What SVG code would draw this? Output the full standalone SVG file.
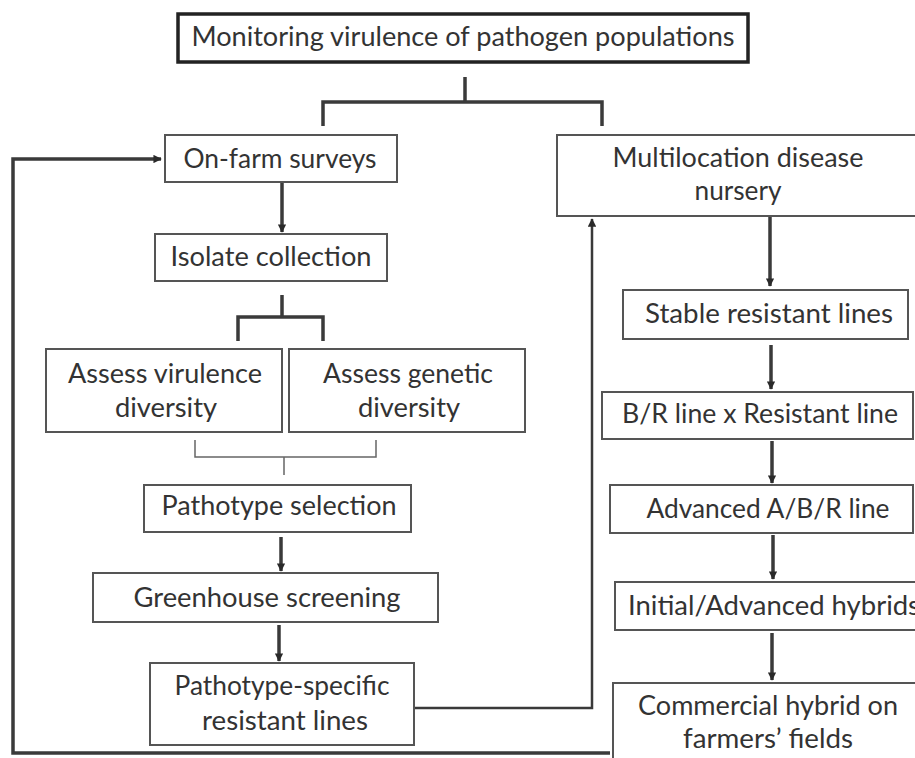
<svg xmlns="http://www.w3.org/2000/svg" width="915" height="758" viewBox="0 0 915 758">
<defs>
<style>
.box{fill:#fff;stroke:#555;stroke-width:2}
.top{fill:#fff;stroke:#222;stroke-width:3.5}
.t{font-family:Lato,"Open Sans","Liberation Sans",sans-serif;font-size:26px;fill:#333;text-anchor:middle}
.ts{font-family:Lato,"Open Sans","Liberation Sans",sans-serif;font-size:26px;fill:#333}
.c{fill:none;stroke:#3a3a3a;stroke-width:3.5}
.cn{fill:none;stroke:#3a3a3a;stroke-width:2.5}
.thin{fill:none;stroke:#666;stroke-width:1.5}
</style>
<marker id="ah" viewBox="0 0 10 10" refX="9" refY="5" markerWidth="2.4" markerHeight="2.4" orient="auto" markerUnits="strokeWidth">
<path d="M0,0 L10,5 L0,10 z" fill="#2a2a2a"/>
</marker>
<marker id="ah2" viewBox="0 0 10 10" refX="9" refY="5" markerWidth="3.4" markerHeight="3.4" orient="auto" markerUnits="strokeWidth">
<path d="M0,0 L10,5 L0,10 z" fill="#2a2a2a"/>
</marker>
</defs>

<g id="connectors">
<path class="c" d="M465,77 V102 M323,126 V102 H602 V126"/>
<path class="c" d="M282,183 V232" marker-end="url(#ah)"/>
<path class="c" d="M282,295 V317 M238,341 V317 H323 V341"/>
<path class="thin" d="M195,440 V457 H376 V440 M284,457 V475"/>
<path class="c" d="M281,537 V571" marker-end="url(#ah)"/>
<path class="c" d="M279,625 V661" marker-end="url(#ah)"/>
<path class="cn" d="M414,708 H592 V219" marker-end="url(#ah2)"/>
<path class="c" d="M610,753 H13 V159 H161" marker-end="url(#ah)"/>
<path class="c" d="M770,216 V286" marker-end="url(#ah)"/>
<path class="c" d="M771,345 V389" marker-end="url(#ah)"/>
<path class="c" d="M772,441 V483" marker-end="url(#ah)"/>
<path class="c" d="M773,535 V579" marker-end="url(#ah)"/>
<path class="c" d="M772,633 V680" marker-end="url(#ah)"/>
</g>

<g id="n-monitor">
<rect class="top" x="178" y="14" width="570" height="48"/>
<text class="t" x="463" y="46" textLength="543" lengthAdjust="spacingAndGlyphs">Monitoring virulence of pathogen populations</text>
</g>
<g id="n-onfarm">
<rect class="box" x="165" y="135" width="232" height="47"/>
<text class="t" x="280" y="168" textLength="193" lengthAdjust="spacingAndGlyphs">On-farm surveys</text>
</g>
<g id="n-multiloc">
<rect class="box" x="557" y="135" width="370" height="81"/>
<text class="t" x="738" y="167" textLength="251" lengthAdjust="spacingAndGlyphs">Multilocation disease</text>
<text class="t" x="738" y="200" textLength="87" lengthAdjust="spacingAndGlyphs">nursery</text>
</g>
<g id="n-isolate">
<rect class="box" x="155" y="234" width="232" height="47"/>
<text class="t" x="271" y="266" textLength="201" lengthAdjust="spacingAndGlyphs">Isolate collection</text>
</g>
<g id="n-virulence">
<rect class="box" x="46" y="349" width="236" height="83"/>
<text class="t" x="165" y="383" textLength="194" lengthAdjust="spacingAndGlyphs">Assess virulence</text>
<text class="t" x="166" y="417" textLength="102" lengthAdjust="spacingAndGlyphs">diversity</text>
</g>
<g id="n-genetic">
<rect class="box" x="289" y="349" width="236" height="83"/>
<text class="t" x="408" y="383" textLength="170" lengthAdjust="spacingAndGlyphs">Assess genetic</text>
<text class="t" x="409" y="417" textLength="102" lengthAdjust="spacingAndGlyphs">diversity</text>
</g>
<g id="n-pathosel">
<rect class="box" x="144" y="485" width="267" height="47"/>
<text class="t" x="279" y="515" textLength="235" lengthAdjust="spacingAndGlyphs">Pathotype selection</text>
</g>
<g id="n-greenhouse">
<rect class="box" x="93" y="573" width="345" height="49"/>
<text class="t" x="267" y="607" textLength="267" lengthAdjust="spacingAndGlyphs">Greenhouse screening</text>
</g>
<g id="n-pathospec">
<rect class="box" x="150" y="663" width="264" height="82"/>
<text class="t" x="282" y="695" textLength="215" lengthAdjust="spacingAndGlyphs">Pathotype-specific</text>
<text class="t" x="285" y="730" textLength="166" lengthAdjust="spacingAndGlyphs">resistant lines</text>
</g>
<g id="n-stable">
<rect class="box" x="623" y="290" width="285" height="49"/>
<text class="t" x="769" y="323" textLength="248" lengthAdjust="spacingAndGlyphs">Stable resistant lines</text>
</g>
<g id="n-br">
<rect class="box" x="602" y="392" width="311" height="47"/>
<text class="t" x="760" y="423" textLength="276" lengthAdjust="spacingAndGlyphs">B/R line x Resistant line</text>
</g>
<g id="n-advanced">
<rect class="box" x="610" y="485" width="303" height="48"/>
<text class="t" x="768" y="518" textLength="243" lengthAdjust="spacingAndGlyphs">Advanced A/B/R line</text>
</g>
<g id="n-initial">
<rect class="box" x="615" y="582" width="320" height="48"/>
<text class="ts" x="628" y="615" textLength="292" lengthAdjust="spacingAndGlyphs">Initial/Advanced hybrids</text>
</g>
<g id="n-commercial">
<rect class="box" x="613" y="683" width="320" height="90"/>
<text class="t" x="768" y="715" textLength="260" lengthAdjust="spacingAndGlyphs">Commercial hybrid on</text>
<text class="t" x="768" y="748" textLength="170" lengthAdjust="spacingAndGlyphs">farmers’ fields</text>
</g>
</svg>
